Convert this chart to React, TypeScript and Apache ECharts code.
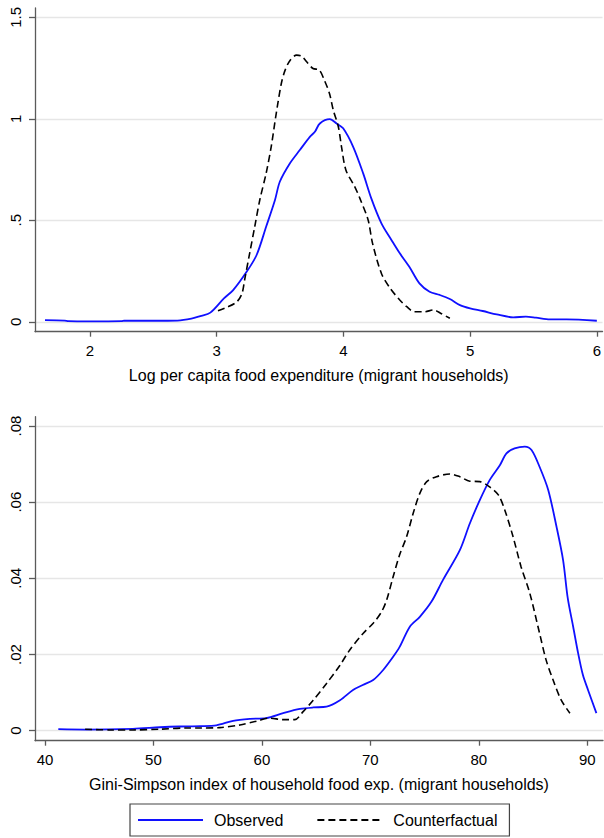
import React, { useEffect, useRef } from "react";
import * as echarts from "echarts";

const topXTicks = [2, 3, 4, 5, 6];
const topYTicks = [0, 0.5, 1, 1.5];
const bottomXTicks = [40, 50, 60, 70, 80, 90];
const bottomYTicks = [0, 0.02, 0.04, 0.06, 0.08];

const topXTitle = "Log per capita food expenditure (migrant households)";
const bottomXTitle = "Gini-Simpson index of household food exp. (migrant households)";
const seriesNames = ["Observed", "Counterfactual"];

const observedTop = [
  [1.645, 0.008], [1.8, 0.006], [1.83, 0.003], [2.0, 0.002], [2.25, 0.003], [2.27, 0.005],
  [2.5, 0.005], [2.69, 0.006], [2.8, 0.015], [2.87, 0.028], [2.95, 0.045], [3.057, 0.115],
  [3.13, 0.156], [3.236, 0.246], [3.315, 0.329], [3.39, 0.468], [3.46, 0.6], [3.498, 0.69],
  [3.577, 0.78], [3.656, 0.846], [3.735, 0.911], [3.775, 0.936], [3.814, 0.977], [3.893, 0.998],
  [3.946, 0.977], [3.998, 0.953], [4.077, 0.862], [4.156, 0.731], [4.22, 0.608], [4.3, 0.485],
  [4.38, 0.402], [4.445, 0.337], [4.52, 0.271], [4.6, 0.189], [4.68, 0.148], [4.76, 0.132],
  [4.84, 0.112], [4.92, 0.082], [5.0, 0.066], [5.1, 0.053], [5.21, 0.036], [5.34, 0.022],
  [5.44, 0.025], [5.52, 0.02], [5.63, 0.012], [5.76, 0.012], [6.0, 0.005],
];

const counterfactualTop = [
  [3.01, 0.054], [3.08, 0.071], [3.16, 0.099], [3.2, 0.14], [3.22, 0.205], [3.26, 0.337],
  [3.3, 0.468], [3.34, 0.6], [3.39, 0.731], [3.43, 0.862], [3.47, 1.027], [3.51, 1.174],
  [3.54, 1.24], [3.58, 1.289], [3.63, 1.314], [3.67, 1.309], [3.71, 1.281], [3.76, 1.248],
  [3.81, 1.24], [3.85, 1.19], [3.89, 1.125], [3.92, 1.043], [3.96, 0.961], [3.985, 0.862],
  [4.02, 0.747], [4.09, 0.665], [4.13, 0.608], [4.195, 0.501], [4.23, 0.386], [4.3, 0.238],
  [4.37, 0.164], [4.445, 0.107], [4.5, 0.074], [4.56, 0.049], [4.64, 0.049], [4.71, 0.058],
  [4.77, 0.041], [4.84, 0.017],
];

const observedBottom = [
  [41.23, 0.0004], [43.7, 0.0003], [48.1, 0.0005], [50.6, 0.0009], [52.4, 0.0011], [54.3, 0.0012],
  [55.8, 0.0014], [57.35, 0.0026], [58.9, 0.0031], [60.4, 0.0033], [61.96, 0.0046], [63.5, 0.0057],
  [64.73, 0.0061], [65.96, 0.0063], [67.2, 0.008], [68.4, 0.0107], [69.3, 0.012], [70.26, 0.0133],
  [71.2, 0.016], [72.1, 0.0194], [72.7, 0.022], [73.64, 0.0273], [74.56, 0.0299], [75.64, 0.0339],
  [76.7, 0.0396], [78.25, 0.0474], [79.17, 0.0544], [80.1, 0.0606], [81.0, 0.0658], [81.94, 0.0697],
  [82.55, 0.0728], [83.3, 0.0741], [84.24, 0.0746], [84.86, 0.0737], [85.6, 0.0693], [86.4, 0.0632],
  [87.16, 0.0536], [87.77, 0.0448], [88.2, 0.0348], [88.7, 0.0273], [89.16, 0.0203], [89.6, 0.0146],
  [90.07, 0.0107], [90.84, 0.0046],
];

const counterfactualBottom = [
  [43.7, 0.0004], [46.0, 0.0002], [48.1, 0.0002], [50.6, 0.0004], [53.06, 0.0007], [54.3, 0.0007],
  [56.1, 0.0008], [57.97, 0.0015], [59.5, 0.0025], [60.7, 0.0033], [61.96, 0.0029], [63.04, 0.0029],
  [63.8, 0.005], [64.73, 0.008], [65.96, 0.0124], [67.2, 0.0172], [68.1, 0.0212], [69.35, 0.0256],
  [70.26, 0.0282], [71.03, 0.0312], [71.5, 0.0343], [72.1, 0.0404], [72.7, 0.0462], [73.34, 0.0509],
  [73.95, 0.0571], [74.56, 0.0623], [75.2, 0.0654], [76.1, 0.0667], [77.33, 0.0674], [78.25, 0.0667],
  [79.17, 0.0655], [80.1, 0.0654], [81.0, 0.064], [81.8, 0.0619], [82.4, 0.0579], [83.16, 0.0509],
  [83.9, 0.043], [84.7, 0.0361], [85.6, 0.0256], [86.2, 0.0186], [86.85, 0.0133], [87.6, 0.008],
  [88.4, 0.0046],
];

const FONT = "'Liberation Sans', Arial, sans-serif";
const AXIS_COLOR = "#5a5a5a";
const GRID_COLOR = "#e6e6e6";
const BLUE = "#1010ff";

function fmt(v: number) {
  if (v === 0) return "0";
  return String(v).replace(/^0\./, ".");
}

function xAxisCfg(gridIndex: number, min: number, max: number, ticks: number[], title: string) {
  return {
    type: "value",
    gridIndex,
    min,
    max,
    name: title,
    nameLocation: "middle",
    nameGap: 36,
    nameTextStyle: { fontSize: 16, color: "#000", fontFamily: FONT },
    axisLine: { show: true, onZero: false, lineStyle: { color: AXIS_COLOR, width: 1.3 } },
    axisTick: { show: true, length: 5, customValues: ticks, lineStyle: { color: AXIS_COLOR, width: 1.3 } },
    axisLabel: { customValues: ticks, fontSize: 15, color: "#000", fontFamily: FONT, margin: 11, formatter: fmt },
    splitLine: { show: false },
  };
}

function yAxisCfg(gridIndex: number, min: number, max: number, ticks: number[]) {
  return {
    type: "value",
    gridIndex,
    min,
    max,
    axisLine: { show: true, onZero: false, lineStyle: { color: AXIS_COLOR, width: 1.3 } },
    axisTick: { show: true, length: 6, customValues: ticks, lineStyle: { color: AXIS_COLOR, width: 1.3 } },
    axisLabel: {
      customValues: ticks,
      rotate: 90,
      fontSize: 15,
      color: "#000",
      fontFamily: FONT,
      margin: 12,
      formatter: fmt,
    },
    splitLine: { show: true, lineStyle: { color: GRID_COLOR, width: 1.3 } },
  };
}

export default function App() {
  const ref = useRef<HTMLDivElement>(null);
  useEffect(() => {
    document.body.style.margin = "0";
    if (!ref.current) return;
    const chart = echarts.init(ref.current, null, { renderer: "svg" });
    const observedLine = { color: BLUE, width: 1.8, type: "solid" };
    const cfLine = { color: "#000", width: 1.6, type: [7, 4] };
    chart.setOption({
      animation: false,
      backgroundColor: "#fff",
      textStyle: { fontFamily: FONT },
      grid: [
        { left: 35, top: 8, width: 568, height: 323.7 },
        { left: 35, top: 416.7, width: 568, height: 324 },
      ],
      xAxis: [
        xAxisCfg(0, 1.566, 6.045, topXTicks, topXTitle),
        xAxisCfg(1, 39.08, 91.45, bottomXTicks, bottomXTitle),
      ],
      yAxis: [
        yAxisCfg(0, -0.049, 1.546, topYTicks),
        yAxisCfg(1, -0.002626, 0.08244, bottomYTicks),
      ],
      legend: {
        left: 130,
        top: 804,
        orient: "horizontal",
        itemWidth: 65,
        itemHeight: 16,
        itemGap: 33,
        padding: [8, 12, 8, 7],
        borderColor: "#444",
        borderWidth: 1.2,
        borderRadius: 0,
        itemStyle: { opacity: 0, borderWidth: 0 },
        lineStyle: { opacity: 1 },
        textStyle: { fontSize: 16, color: "#000", fontFamily: FONT, padding: [0, 0, 0, 6] },
        data: seriesNames,
      },
      series: [
        {
          name: seriesNames[0], type: "line", xAxisIndex: 0, yAxisIndex: 0, data: observedTop,
          symbol: "none", smooth: 0.3, lineStyle: observedLine, itemStyle: { color: BLUE },
        },
        {
          name: seriesNames[1], type: "line", xAxisIndex: 0, yAxisIndex: 0, data: counterfactualTop,
          symbol: "none", smooth: 0.3, lineStyle: cfLine, itemStyle: { color: "#000" },
        },
        {
          name: seriesNames[0], type: "line", xAxisIndex: 1, yAxisIndex: 1, data: observedBottom,
          symbol: "none", smooth: 0.3, lineStyle: observedLine, itemStyle: { color: BLUE },
        },
        {
          name: seriesNames[1], type: "line", xAxisIndex: 1, yAxisIndex: 1, data: counterfactualBottom,
          symbol: "none", smooth: 0.3, lineStyle: cfLine, itemStyle: { color: "#000" },
        },
      ],
    });
    return () => chart.dispose();
  }, []);
  return <div ref={ref} style={{ width: 604, height: 838 }} />;
}
